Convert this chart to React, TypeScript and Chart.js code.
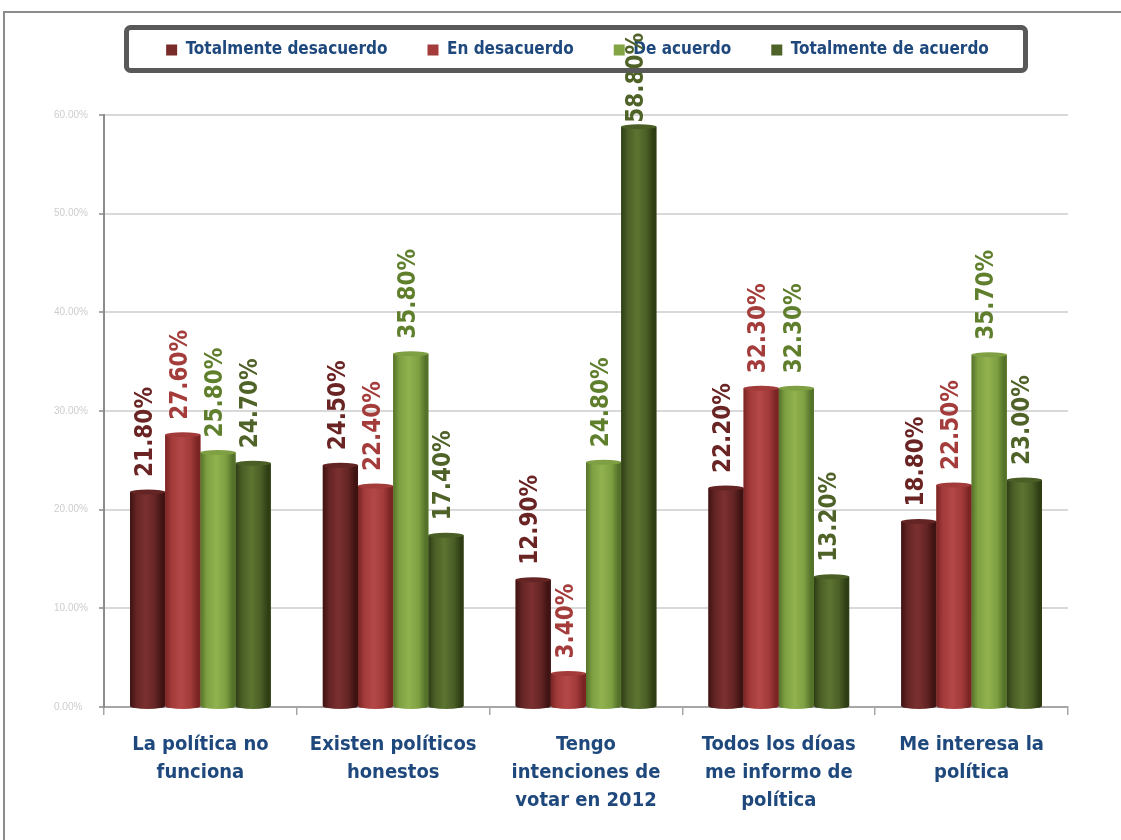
import { useEffect, useRef } from 'react';
import { Chart, registerables } from 'chart.js';

Chart.register(...registerables);

// ---------- data ----------
const categories: string[][] = [
  ['La política no', 'funciona'],
  ['Existen políticos', 'honestos'],
  ['Tengo', 'intenciones de', 'votar en 2012'],
  ['Todos los díoas', 'me informo de', 'política'],
  ['Me interesa la', 'política'],
];
const seriesNames = ['Totalmente desacuerdo', 'En desacuerdo', 'De acuerdo', 'Totalmente de acuerdo'];
const totalmenteDesacuerdo = [21.8, 24.5, 12.9, 22.2, 18.8];
const enDesacuerdo = [27.6, 22.4, 3.4, 32.3, 22.5];
const deAcuerdo = [25.8, 35.8, 24.8, 32.3, 35.7];
const totalmenteDeAcuerdo = [24.7, 17.4, 58.8, 13.2, 23.0];
const yMin = 0;
const yMax = 60;
const yStep = 10;

// ---------- styles ----------
const FONT = "'Liberation Sans Narrow', 'DejaVu Sans Condensed', 'Liberation Sans', sans-serif";
const BLUE = '#1F497D';
const legendColors = ['#772C2A', '#A33C3A', '#82A442', '#4F6228'];
const labelColors = ['#6A2424', '#A33C3A', '#5F7F2C', '#4F6228'];
const cylinder = [
  { edge: '#3E1312', mid: '#642424', light: '#7C3030' },
  { edge: '#7A2424', mid: '#A23B3A', light: '#B44848' },
  { edge: '#55722A', mid: '#7FA042', light: '#91B24E' },
  { edge: '#2F3D15', mid: '#4A5E26', light: '#5D7431' },
];

const seriesData = [totalmenteDesacuerdo, enDesacuerdo, deAcuerdo, totalmenteDeAcuerdo];

const framePlugin = {
  id: 'frame',
  beforeLayout(chart: any) {
    const lg = chart.legend;
    if (lg && !lg.__patched) {
      const orig = lg.fit.bind(lg);
      lg.fit = () => {
        orig();
        lg.height = 113.5;
      };
      lg.__patched = true;
    }
  },
  beforeDraw(chart: any) {
    const ctx = chart.ctx;
    ctx.save();
    ctx.strokeStyle = '#8C8C8C';
    ctx.lineWidth = 2;
    ctx.beginPath();
    ctx.moveTo(1121, 12);
    ctx.lineTo(4, 12);
    ctx.lineTo(4, 840);
    ctx.stroke();
    ctx.restore();
  },
  afterDatasetsDraw(chart: any) {
    const ctx = chart.ctx;
    chart.data.datasets.forEach((ds: any, di: number) => {
      const meta = chart.getDatasetMeta(di);
      const c = cylinder[di];
      meta.data.forEach((bar: any, i: number) => {
        const w = bar.width;
        const x0 = bar.x - w / 2;
        const top = bar.y;
        const base = bar.base;
        const g = ctx.createLinearGradient(x0, 0, x0 + w, 0);
        g.addColorStop(0, c.edge);
        g.addColorStop(0.18, c.mid);
        g.addColorStop(0.45, c.light);
        g.addColorStop(0.72, c.mid);
        g.addColorStop(0.92, c.edge);
        g.addColorStop(1, c.edge);
        ctx.save();
        ctx.fillStyle = g;
        ctx.beginPath();
        ctx.rect(x0, top, w, base - top);
        ctx.fill();
        ctx.beginPath();
        ctx.ellipse(bar.x, base, w / 2, 3, 0, 0, Math.PI);
        ctx.fill();
        ctx.fillStyle = c.mid;
        ctx.beginPath();
        ctx.ellipse(bar.x, top, w / 2, 2.5, 0, 0, Math.PI * 2);
        ctx.fill();
        ctx.restore();

        // data label (rotated); pulled closer to the bar when near the top
        const v = ds.data[i];
        const text = v.toFixed(2) + '%';
        ctx.save();
        ctx.font = `bold 24px ${FONT}`;
        const tw = ctx.measureText(text).width;
        let start = top - 15;
        if (start - tw < 58) start = top - 4;
        ctx.translate(bar.x - 2, start);
        ctx.rotate(-Math.PI / 2);
        ctx.fillStyle = labelColors[di];
        ctx.textAlign = 'left';
        ctx.textBaseline = 'middle';
        ctx.fillText(text, 0, 0);
        ctx.restore();
      });
    });
  },
  afterDraw(chart: any) {
    const ctx = chart.ctx;
    ctx.save();
    ctx.strokeStyle = '#595959';
    ctx.lineWidth = 5;
    ctx.beginPath();
    ctx.roundRect(126.5, 27.5, 899, 43, 4);
    ctx.stroke();
    ctx.restore();
  },
};

export default function App() {
  const ref = useRef<HTMLCanvasElement>(null);
  useEffect(() => {
    if (!ref.current) return;
    const chart = new Chart(ref.current, {
      type: 'bar',
      data: {
        labels: categories,
        datasets: seriesNames.map((name, i) => ({
          label: name,
          data: seriesData[i],
          backgroundColor: legendColors[i],
          borderWidth: 0,
          barPercentage: 1.0,
          categoryPercentage: 0.73,
        })),
      },
      options: {
        animation: false,
        responsive: true,
        maintainAspectRatio: false,
        layout: { padding: { top: 1.5, left: 87, right: 53, bottom: 0 } },
        plugins: {
          legend: {
            position: 'top',
            labels: {
              boxWidth: 11,
              boxHeight: 11,
              padding: 40,
              color: BLUE,
              font: { family: FONT, size: 17, weight: 'bold' },
            },
          },
          tooltip: { enabled: false },
        },
        scales: {
          x: {
            offset: true,
            grid: { display: true, drawOnChartArea: false, drawTicks: true, tickLength: 8, color: '#A6A6A6', lineWidth: 1.5 },
            border: { display: true, color: '#A6A6A6', width: 2 },
            ticks: {
              color: BLUE,
              padding: 16,
              maxRotation: 0,
              autoSkip: false,
              font: { family: FONT, size: 20, weight: 'bold', lineHeight: 1.4 },
            },
            afterFit: (scale: any) => {
              scale.height = 133;
            },
          },
          y: {
            min: yMin,
            max: yMax,
            ticks: {
              stepSize: yStep,
              color: '#CDCDCD',
              mirror: true,
              padding: -50,
              font: { family: "'Liberation Sans', sans-serif", size: 10 },
              callback: (v: any) => Number(v).toFixed(2) + '%',
            },
            grid: { color: '#D9D9D9', lineWidth: 2, tickLength: 5, tickColor: '#A6A6A6' },
            border: { display: true, color: '#8C8C8C', width: 2 },
            afterFit: (scale: any) => {
              scale.width = 17;
            },
          },
        },
      },
      plugins: [framePlugin],
    } as any);
    return () => chart.destroy();
  }, []);
  return (
    <div style={{ position: 'absolute', left: 0, top: 0, width: 1121, height: 840 }}>
      <canvas ref={ref} style={{ display: 'block' }} />
    </div>
  );
}
